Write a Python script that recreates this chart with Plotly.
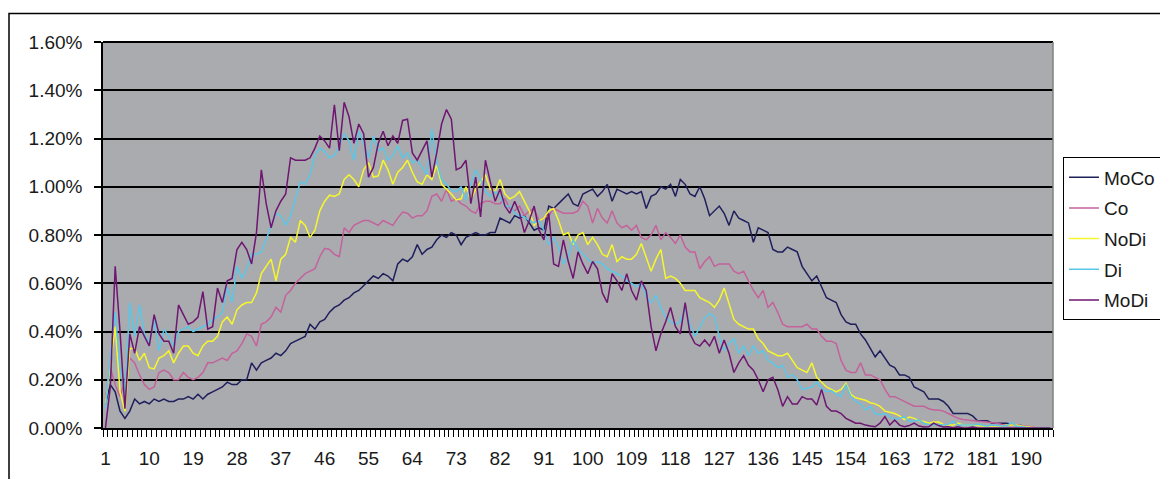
import plotly.graph_objects as go

N = 195
categories = list(range(1, N + 1))
tick_labels = list(range(1, 191, 9))

MoCo = [0.10, 0.18, 0.15, 0.07, 0.04, 0.07, 0.12, 0.10, 0.11, 0.10,
        0.12, 0.11, 0.12, 0.11, 0.11, 0.12, 0.12, 0.13, 0.12, 0.14,
        0.12, 0.14, 0.15, 0.16, 0.17, 0.19, 0.18, 0.18, 0.20, 0.20,
        0.27, 0.24, 0.27, 0.28, 0.29, 0.31, 0.30, 0.32, 0.35, 0.36,
        0.37, 0.38, 0.43, 0.41, 0.44, 0.45, 0.48, 0.50, 0.51, 0.53,
        0.54, 0.56, 0.57, 0.59, 0.61, 0.63, 0.62, 0.64, 0.63, 0.61,
        0.68, 0.70, 0.69, 0.71, 0.76, 0.72, 0.74, 0.75, 0.78, 0.80,
        0.79, 0.81, 0.80, 0.76, 0.79, 0.80, 0.81, 0.80, 0.80, 0.81,
        0.81, 0.87, 0.86, 0.85, 0.88, 0.87, 0.88, 0.85, 0.82, 0.83,
        0.82, 0.92, 0.91, 0.93, 0.95, 0.97, 0.93, 0.92, 0.97, 0.98,
        0.99, 0.96, 0.98, 1.01, 0.94, 0.99, 0.98, 0.97, 0.98, 0.97,
        0.98, 0.91, 0.96, 0.97, 1.00, 0.99, 1.01, 0.96, 1.03, 1.01,
        0.97, 0.96, 1.00, 0.95, 0.88, 0.90, 0.92, 0.89, 0.84, 0.90,
        0.87, 0.86, 0.85, 0.77, 0.83, 0.82, 0.81, 0.74, 0.73, 0.73,
        0.75, 0.74, 0.73, 0.67, 0.64, 0.61, 0.63, 0.585, 0.54, 0.53,
        0.52, 0.47, 0.44, 0.43, 0.43, 0.39, 0.365, 0.33, 0.295, 0.32,
        0.29, 0.26, 0.25, 0.22, 0.22, 0.21, 0.17, 0.16, 0.15, 0.12,
        0.12, 0.12, 0.11, 0.09, 0.06, 0.06, 0.06, 0.06, 0.05, 0.03,
        0.03, 0.03, 0.02, 0.02, 0.02, 0.02, 0.015, 0.01, 0.01, 0.005,
        0.0, 0.0, 0.0, 0.0, 0.0]

Co = [0.12, 0.25, 0.18, 0.13, 0.20, 0.29, 0.27, 0.22, 0.18, 0.16,
      0.17, 0.23, 0.24, 0.23, 0.20, 0.20, 0.23, 0.21, 0.20, 0.21,
      0.23, 0.27, 0.27, 0.28, 0.29, 0.28, 0.31, 0.32, 0.35, 0.39,
      0.38, 0.34, 0.43, 0.44, 0.46, 0.50, 0.48, 0.55, 0.57, 0.60,
      0.62, 0.64, 0.65, 0.66, 0.71, 0.745, 0.74, 0.72, 0.71, 0.83,
      0.81, 0.84, 0.85, 0.86, 0.86, 0.85, 0.84, 0.86, 0.85, 0.84,
      0.87, 0.895, 0.89, 0.87, 0.88, 0.88, 0.90, 0.96, 0.97, 0.94,
      0.99, 0.94, 0.95, 0.93, 0.92, 0.90, 0.89, 0.93, 0.94, 0.94,
      0.93, 0.93, 0.95, 0.91, 0.90, 0.92, 0.88, 0.90, 0.91, 0.86,
      0.87, 0.88, 0.91, 0.90, 0.89, 0.89, 0.89, 0.90, 0.94, 0.92,
      0.85, 0.91, 0.87, 0.85, 0.90, 0.85, 0.83, 0.84, 0.82, 0.84,
      0.79, 0.78, 0.80, 0.84, 0.78, 0.81, 0.79, 0.765, 0.80, 0.75,
      0.73, 0.73, 0.66, 0.69, 0.71, 0.67, 0.68, 0.68, 0.68, 0.65,
      0.64, 0.65, 0.61, 0.57, 0.54, 0.57, 0.50, 0.52, 0.48, 0.43,
      0.42, 0.42, 0.42, 0.42, 0.43, 0.41, 0.41, 0.38, 0.36, 0.36,
      0.35, 0.28, 0.24, 0.23, 0.23, 0.27, 0.22, 0.22, 0.21, 0.20,
      0.16, 0.13, 0.13, 0.12, 0.11, 0.10, 0.09, 0.09, 0.09, 0.08,
      0.075, 0.075, 0.07, 0.06, 0.05, 0.04, 0.035, 0.033, 0.033, 0.03,
      0.026, 0.026, 0.025, 0.02, 0.015, 0.012, 0.012, 0.012, 0.01, 0.008,
      0.005, 0.0, 0.0, 0.0, 0.0]

NoDi = [0.10, 0.25, 0.42, 0.15, 0.07, 0.33, 0.33, 0.28, 0.31, 0.25,
        0.245, 0.29, 0.30, 0.32, 0.27, 0.31, 0.34, 0.34, 0.31, 0.30,
        0.34, 0.36, 0.36, 0.38, 0.44, 0.46, 0.43, 0.49, 0.51, 0.52,
        0.52, 0.56, 0.64, 0.67, 0.70, 0.61, 0.70, 0.72, 0.79, 0.77,
        0.86, 0.84, 0.79, 0.82, 0.90, 0.94, 0.965, 0.96, 0.97, 1.03,
        1.05, 1.03, 1.00, 1.07, 1.10, 1.04, 1.045, 1.11, 1.07, 1.01,
        1.06, 1.08, 1.11, 1.06, 1.02, 1.01, 1.05, 1.03, 1.09, 1.01,
        0.99, 0.97, 0.945, 0.95, 1.00, 0.945, 0.99, 1.02, 1.05, 0.99,
        0.98, 1.03, 0.97, 0.95, 0.96, 0.98, 0.94, 0.90, 0.84, 0.86,
        0.87, 0.90, 0.91, 0.86, 0.80, 0.81, 0.76, 0.80, 0.81, 0.76,
        0.79, 0.76, 0.72, 0.71, 0.76, 0.69, 0.71, 0.70, 0.70, 0.72,
        0.765, 0.71, 0.65, 0.70, 0.74, 0.62, 0.63, 0.62, 0.60, 0.57,
        0.57, 0.57, 0.54, 0.53, 0.52, 0.50, 0.53, 0.58, 0.51, 0.45,
        0.43, 0.42, 0.41, 0.41, 0.37, 0.35, 0.32, 0.31, 0.30, 0.30,
        0.31, 0.28, 0.25, 0.24, 0.23, 0.27, 0.21, 0.19, 0.17, 0.16,
        0.15, 0.16, 0.185, 0.14, 0.125, 0.12, 0.115, 0.105, 0.10, 0.09,
        0.07, 0.065, 0.06, 0.05, 0.035, 0.045, 0.04, 0.03, 0.027, 0.02,
        0.025, 0.025, 0.015, 0.012, 0.012, 0.02, 0.012, 0.012, 0.012, 0.01,
        0.008, 0.008, 0.008, 0.006, 0.008, 0.012, 0.012, 0.012, 0.008, 0.005,
        0.0, 0.0, 0.0, 0.0, 0.0]

Di = [0.08, 0.30, 0.48, 0.25, 0.14, 0.52, 0.38, 0.51, 0.39, 0.35,
      0.45, 0.32, 0.41, 0.38, 0.34, 0.40, 0.41, 0.42, 0.40, 0.41,
      0.42, 0.43, 0.45, 0.46, 0.48, 0.585, 0.52, 0.67, 0.62, 0.66,
      0.72, 0.72, 0.73, 0.78, 0.84, 0.89, 0.88, 0.84, 0.88, 0.95,
      1.02, 1.01, 1.05, 1.13, 1.16, 1.145, 1.12, 1.13, 1.17, 1.22,
      1.19, 1.11, 1.23, 1.18, 1.12, 1.21, 1.15, 1.16, 1.11, 1.13,
      1.17, 1.12, 1.14, 1.10, 1.11, 1.08, 1.05, 1.24, 1.10, 1.03,
      1.01, 0.985, 0.98, 1.00, 0.945, 1.01, 1.07, 1.03, 0.98, 0.96,
      0.98, 0.96, 0.92, 0.92, 0.89, 0.88, 0.875, 0.86, 0.85, 0.86,
      0.82, 0.76, 0.79, 0.75, 0.68, 0.71, 0.78, 0.74, 0.72, 0.70,
      0.68, 0.69, 0.68, 0.66, 0.65, 0.64, 0.63, 0.61, 0.60, 0.585,
      0.60, 0.545, 0.52, 0.55, 0.50, 0.46, 0.44, 0.43, 0.44, 0.50,
      0.43, 0.38, 0.42, 0.455, 0.475, 0.46, 0.38, 0.32, 0.35, 0.37,
      0.31, 0.34, 0.30, 0.34, 0.31, 0.32, 0.28, 0.27, 0.25, 0.26,
      0.21, 0.22, 0.20, 0.16, 0.165, 0.17, 0.19, 0.165, 0.15, 0.155,
      0.14, 0.13, 0.18, 0.13, 0.11, 0.10, 0.075, 0.09, 0.06, 0.055,
      0.06, 0.047, 0.035, 0.04, 0.047, 0.027, 0.03, 0.033, 0.02, 0.015,
      0.015, 0.012, 0.012, 0.015, 0.027, 0.012, 0.012, 0.01, 0.012, 0.015,
      0.01, 0.008, 0.012, 0.01, 0.008, 0.01, 0.022, 0.008, 0.005, 0.003,
      0.0, 0.0, 0.0, 0.0, 0.0]

MoDi = [0.00, 0.17, 0.67, 0.40, 0.08, 0.39, 0.31, 0.42, 0.38, 0.34,
        0.47, 0.39, 0.36, 0.36, 0.31, 0.51, 0.47, 0.43, 0.44, 0.46,
        0.565, 0.41, 0.42, 0.58, 0.52, 0.61, 0.62, 0.74, 0.77, 0.74,
        0.68, 0.81, 1.07, 0.93, 0.83, 0.90, 0.94, 0.97, 1.12, 1.11,
        1.11, 1.11, 1.12, 1.16, 1.21, 1.19, 1.16, 1.34, 1.15, 1.35,
        1.29, 1.18, 1.26, 1.22, 1.04, 1.08, 1.18, 1.23, 1.17, 1.21,
        1.18, 1.275, 1.28, 1.14, 1.11, 1.15, 1.19, 1.04, 1.14, 1.26,
        1.32, 1.28, 1.07, 1.08, 1.11, 0.93, 1.04, 0.875, 1.11, 1.02,
        0.94, 0.99, 0.92, 0.89, 0.94, 0.89, 0.81, 0.86, 0.92, 0.82,
        0.78, 0.89, 0.68, 0.67, 0.78, 0.69, 0.62, 0.73, 0.68, 0.64,
        0.69, 0.66, 0.56, 0.52, 0.64, 0.61, 0.57, 0.64, 0.57, 0.53,
        0.61, 0.57, 0.42, 0.32, 0.39, 0.44, 0.50, 0.42, 0.39, 0.52,
        0.39, 0.35, 0.34, 0.365, 0.34, 0.38, 0.31, 0.365, 0.31, 0.23,
        0.27, 0.30, 0.26, 0.24, 0.20, 0.15, 0.20, 0.21, 0.16, 0.09,
        0.13, 0.10, 0.10, 0.13, 0.12, 0.12, 0.095, 0.16, 0.09, 0.07,
        0.07, 0.06, 0.04, 0.03, 0.02, 0.02, 0.012, 0.008, 0.005, 0.02,
        0.047, 0.012, 0.033, 0.012, 0.005, 0.01, 0.02, 0.008, 0.004, 0.005,
        0.02, 0.01, 0.004, 0.005, 0.0, 0.005, 0.0, 0.0, 0.004, 0.0,
        0.0, 0.0, 0.0, 0.0, 0.0, 0.0, 0.0, 0.0, 0.0, 0.0,
        0.0, 0.0, 0.0, 0.0, 0.0]

series = [
    ("MoCo", MoCo, "#1f1f5c"),
    ("Co", Co, "#c4629c"),
    ("NoDi", NoDi, "#f6f62c"),
    ("Di", Di, "#5cc6e6"),
    ("MoDi", MoDi, "#6e1670"),
]

FONT = "Liberation Sans, Arial, sans-serif"

fig = go.Figure()
for name, vals, col in series:
    fig.add_trace(go.Scatter(x=categories, y=vals, mode="lines", name=name,
                             legendgroup=name,
                             line=dict(color=col, width=1.5)))

L, R, T, B = 103, 1053, 41.5, 428
W, H = 1160, 479
pw, ph = R - L, B - T

fig.update_layout(
    width=W, height=H,
    margin=dict(l=L, r=W - R, t=T, b=H - B, pad=0, autoexpand=False),
    paper_bgcolor="white",
    plot_bgcolor="#aaabaf",
    font=dict(family=FONT, size=19, color="#1a1a1a"),
    showlegend=True,
    legend=dict(x=(1063 - L) / pw, y=(B - 157) / ph, xanchor="left", yanchor="top",
                bgcolor="white", bordercolor="black", borderwidth=1,
                font=dict(family=FONT, size=19, color="#1a1a1a"),
                tracegroupgap=3, itemwidth=30),
    xaxis=dict(
        range=[0.5, N + 0.5],
        tickmode="array", tickvals=tick_labels, ticktext=[str(v) for v in tick_labels],
        ticks="outside", ticklen=7, tickcolor="rgba(0,0,0,0)",
        showgrid=False, zeroline=False,
        showline=True, linecolor="black", linewidth=1.5,
        minor=dict(tickmode="linear", tick0=0.5, dtick=1, ticks="outside",
                   ticklen=7, tickcolor="black", tickwidth=1, showgrid=False),
        ticklabelstandoff=5,
        tickfont=dict(family=FONT, size=19, color="#1a1a1a"),
    ),
    yaxis=dict(
        range=[0, 1.6], tickmode="linear", tick0=0, dtick=0.2,
        tickformat=".2f", ticksuffix="%",
        ticks="outside", ticklen=7, tickcolor="black", tickwidth=1.5,
        showgrid=True, gridcolor="black", gridwidth=2,
        zeroline=False, showline=True, linecolor="black", linewidth=1.5,
        ticklabelstandoff=8,
        tickfont=dict(family=FONT, size=19, color="#1a1a1a"),
    ),
)

# top edge of the plot area and right border
fig.add_shape(type="line", xref="paper", yref="paper", x0=0, x1=1, y0=1, y1=1,
              line=dict(color="black", width=2))
fig.add_shape(type="line", xref="paper", yref="paper", x0=1, x1=1, y0=0, y1=1,
              line=dict(color="#808080", width=1.5))
# outer chart frame
fig.add_shape(type="rect", xref="paper", yref="paper",
              x0=(9 - L) / pw, x1=(1200 - L) / pw,
              y0=(B - 520) / ph, y1=(B - 13) / ph,
              line=dict(color="black", width=1.5), fillcolor="rgba(0,0,0,0)", layer="below")

fig.write_html(
    "out.html",
    config={"displayModeBar": False},
    post_script="document.body.style.margin='0';document.body.style.padding='0';"
                "document.body.style.overflow='hidden';",
)
